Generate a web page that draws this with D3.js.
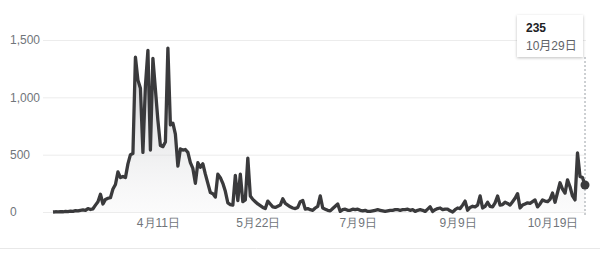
<!DOCTYPE html>
<html>
<head>
<meta charset="utf-8">
<script src="https://cdn.jsdelivr.net/npm/d3@7"></script>
<style>
  html, body { margin: 0; padding: 0; background: #fff; }
  svg { display: block; font-family: Arial, 'Liberation Sans', 'Noto Sans CJK JP', sans-serif; }
  .tick text { fill: #70757a; font-size: 12px; }
</style>
</head>
<body>
<svg id="chart" width="600" height="253"></svg>
<script>
// daily new cases, one value per point
const values = [
  0, 2, 1, 3, 2, 5, 4, 8, 6, 12,
  10, 15, 18, 14, 30, 22, 28, 60, 90, 155,
  70, 110, 120, 125, 200, 240, 350, 300, 310, 300,
  420, 500, 510, 1350, 1150, 1080, 520, 1100, 1410, 540,
  1340, 1070, 800, 580, 570, 610, 1430, 760, 775, 680,
  400, 550, 540, 545, 520, 430, 380, 250, 430, 390,
  420, 330, 250, 170, 160, 130, 330, 300, 250, 180,
  80, 65, 60, 320, 100, 330, 90, 105, 470, 140,
  110, 90, 70, 55, 40, 30, 95, 70, 45, 40,
  50, 60, 115, 75, 60, 45, 35, 30, 40, 90,
  100, 25, 30, 20, 15, 35, 50, 140, 35, 25,
  15, 10, 30, 50, 70, 5, 20, 25, 15, 15,
  25, 20, 25, 15, 10, 15, 5, 5, 10, 15,
  20, 15, 10, 5, 10, 15, 15, 20, 20, 15,
  20, 20, 25, 15, 20, 5, 15, 20, 15, 5,
  25, 45, 5, 20, 30, 35, 20, 25, 25, 10,
  0, 20, 35, 30, 60, 95, 15, 40, 50, 45,
  60, 140, 35, 50, 85, 50, 45, 80, 140, 60,
  65, 85, 75, 60, 90, 120, 160, 35, 60, 70,
  80, 75, 90, 105, 45, 70, 105, 95, 90, 110,
  165, 85, 170, 255, 200, 165, 280, 220, 140, 105,
  515, 310, 300, 235
]
const xTickIndex = [42, 82, 122, 162, 200]
const xTickLabels = ['4月11日', '5月22日', '7月9日', '9月9日', '10月19日']
const yTicks = [0, 500, 1000, 1500]
const hoverLabel = '10月29日'

const svg = d3.select('#chart')

const xs = d3.scaleLinear().domain([0, values.length - 1]).range([53, 585])
const ys = d3.scaleLinear().domain([0, 1500]).range([212, 40])

let defs = svg.append('defs')
let grad = defs.append('linearGradient')
  .attr('id', 'fillGrad')
  .attr('gradientUnits', 'userSpaceOnUse')
  .attr('x1', 0).attr('x2', 0)
  .attr('y1', ys(1500)).attr('y2', ys(0))
grad.append('stop').attr('offset', '0%').attr('stop-color', '#bcbdc0').attr('stop-opacity', 0.85)
grad.append('stop').attr('offset', '100%').attr('stop-color', '#e4e4e6').attr('stop-opacity', 0.15)

// gridlines + y labels
let yAxis = svg.append('g')
  .attr('transform', 'translate(43, 0)')
  .call(d3.axisLeft(ys).tickValues(yTicks).tickSize(-543).tickFormat(d3.format(',')))
yAxis.select('.domain').remove()
yAxis.selectAll('.tick line').attr('stroke', '#ececec')
yAxis.selectAll('.tick text')
  .attr('text-anchor', 'start')
  .attr('x', -33)
  .attr('dy', '0.32em')

// x labels
let xAxis = svg.append('g')
  .attr('transform', 'translate(0, 212)')
  .call(d3.axisBottom(xs).tickValues(xTickIndex).tickSize(0).tickPadding(6)
    .tickFormat((d, i) => xTickLabels[i]))
xAxis.select('.domain').remove()

// bottom separator
svg.append('line')
  .attr('x1', 0).attr('x2', 600)
  .attr('y1', 248.5).attr('y2', 248.5)
  .attr('stroke', '#e8e8e8')

const area = d3.area()
  .x((d, i) => xs(i))
  .y0(ys(0))
  .y1((d) => ys(d))

const line = d3.line()
  .x((d, i) => xs(i))
  .y((d) => ys(d))

svg.append('path')
  .datum(values)
  .attr('fill', 'url(#fillGrad)')
  .attr('d', area)

svg.append('path')
  .datum(values)
  .attr('fill', 'none')
  .attr('stroke', '#3a3a3c')
  .attr('stroke-width', 3.3)
  .attr('stroke-linejoin', 'round')
  .attr('d', line)

// hover marker on last point
let last = values.length - 1
svg.append('line')
  .attr('x1', xs(last)).attr('x2', xs(last))
  .attr('y1', 57).attr('y2', ys(0) + 3)
  .attr('stroke', '#9aa0a6')
  .attr('stroke-width', 1)
  .attr('stroke-dasharray', '2,2')

svg.append('circle')
  .attr('cx', xs(last)).attr('cy', ys(values[last]))
  .attr('r', 4.5)
  .attr('fill', '#3a3a3c')

// tooltip
let tip = svg.append('g').attr('transform', 'translate(517, 15)')
defs.append('filter').attr('id', 'shadow')
  .attr('x', '-20%').attr('y', '-20%').attr('width', '140%').attr('height', '150%')
  .append('feDropShadow')
  .attr('dx', 0).attr('dy', 1).attr('stdDeviation', 1.5)
  .attr('flood-color', '#000').attr('flood-opacity', 0.25)
tip.append('rect')
  .attr('width', 66).attr('height', 42)
  .attr('fill', '#fff')
  .attr('filter', 'url(#shadow)')
tip.append('text')
  .attr('x', 9).attr('y', 17)
  .attr('font-size', 12).attr('font-weight', 'bold').attr('fill', '#202124')
  .text(values[last])
tip.append('text')
  .attr('x', 9).attr('y', 35)
  .attr('font-size', 12).attr('fill', '#5f6368')
  .text(hoverLabel)
</script>
</body>
</html>
